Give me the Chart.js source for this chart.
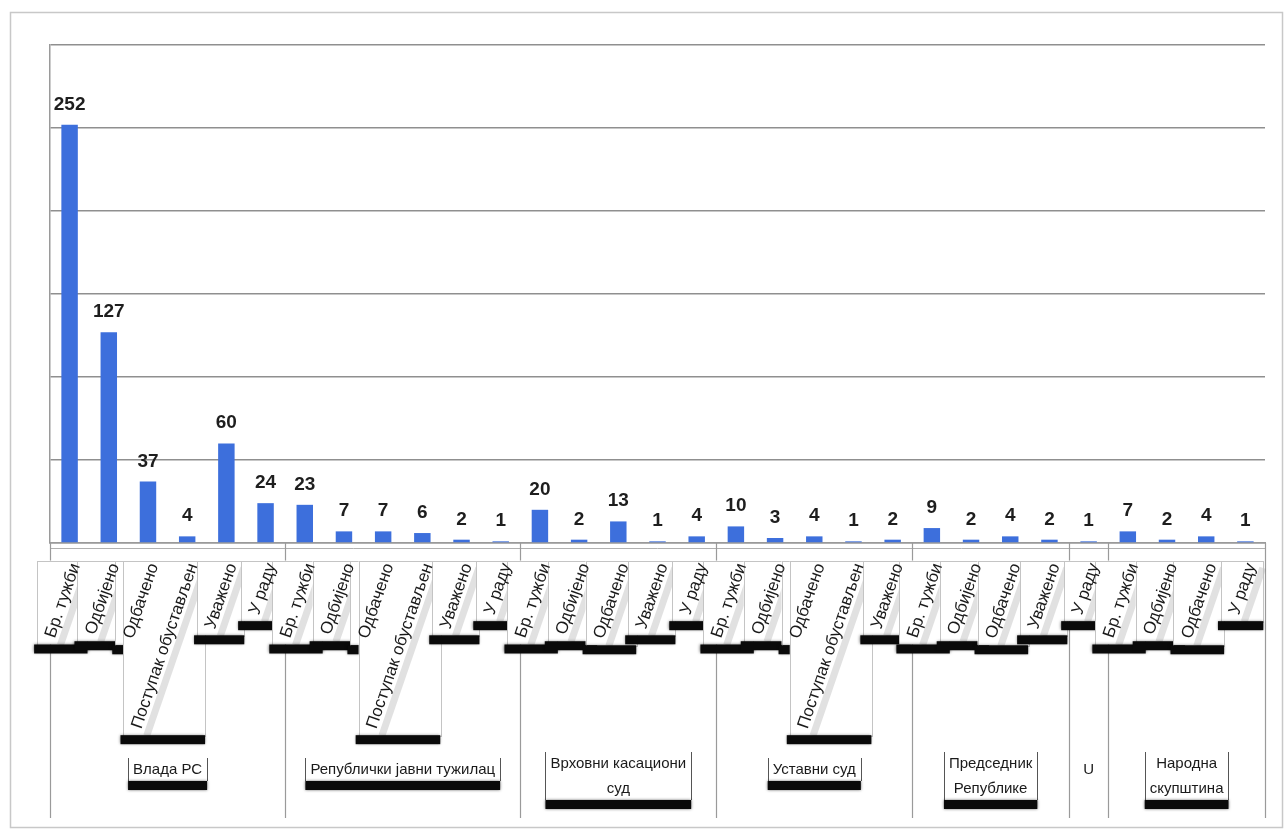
<!DOCTYPE html>
<html>
<head>
<meta charset="utf-8">
<script src="https://cdn.jsdelivr.net/npm/chart.js@4.4.0/dist/chart.umd.min.js"></script>
<style>
html,body{margin:0;padding:0;background:#fff;}
#wrap{position:relative;width:1287px;height:834px;}
</style>
</head>
<body>
<div id="wrap"><canvas id="c" width="1287" height="834"></canvas></div>
<script>
// ---- data ----
const categories = [
  'Бр. тужби','Одбијено','Одбачено','Поступак обустављен','Уважено','У раду',
  'Бр. тужби','Одбијено','Одбачено','Поступак обустављен','Уважено','У раду',
  'Бр. тужби','Одбијено','Одбачено','Уважено','У раду',
  'Бр. тужби','Одбијено','Одбачено','Поступак обустављен','Уважено',
  'Бр. тужби','Одбијено','Одбачено','Уважено',
  'У раду',
  'Бр. тужби','Одбијено','Одбачено','У раду'
];
const values = [
  252,127,37,4,60,24,
  23,7,7,6,2,1,
  20,2,13,1,4,
  10,3,4,1,2,
  9,2,4,2,
  1,
  7,2,4,1
];
const groupNames = [
  ['Влада РС'],
  ['Републички јавни тужилац'],
  ['Врховни касациони','суд'],
  ['Уставни суд'],
  ['Председник','Републике'],
  ['U'],
  ['Народна','скупштина']
];
const groupSizes = [6,6,5,5,4,1,4];
const yTicks = [0,50,100,150,200,250,300];

// ---- plugins ----
const frame = {
  id:'frame',
  beforeDraw(chart){
    const ctx = chart.ctx;
    ctx.save();
    ctx.fillStyle='#fff';
    ctx.fillRect(0,0,chart.width,chart.height);
    ctx.strokeStyle='#c8c8c8';
    ctx.lineWidth=1.5;
    ctx.strokeRect(10.5,12.5,1272,815);
    ctx.restore();
  }
};

const valueLabels = {
  id:'valueLabels',
  afterDatasetsDraw(chart){
    const ctx = chart.ctx;
    const meta = chart.getDatasetMeta(0);
    ctx.save();
    ctx.font = 'bold 19px "Liberation Sans", Arial, sans-serif';
    ctx.fillStyle = '#1e1e1e';
    ctx.textAlign = 'center';
    ctx.textBaseline = 'alphabetic';
    meta.data.forEach((bar,i)=>{
      ctx.fillText(String(values[i]), bar.x, bar.y - 15);
    });
    ctx.restore();
  }
};

const groupAxis = {
  id:'groupAxis',
  afterDraw(chart){
    const ctx = chart.ctx;
    const xs = chart.scales.x;
    const area = chart.chartArea;
    const step = xs.getPixelForTick(1) - xs.getPixelForTick(0);
    const ang = 71*Math.PI/180;
    const fontPx = 17;
    ctx.save();
    ctx.strokeStyle='#b0b0b0';
    ctx.lineWidth=1;
    ctx.beginPath();
    ctx.moveTo(area.left, area.bottom+5.5);
    ctx.lineTo(area.right, area.bottom+5.5);
    ctx.stroke();

    let start = 0;
    const bounds = [];
    groupSizes.forEach((n)=>{
      const l = xs.getPixelForTick(start) - step/2;
      const r = xs.getPixelForTick(start+n-1) + step/2;
      bounds.push([l,r]);
      start += n;
    });
    ctx.strokeStyle='#9a9a9a';
    ctx.lineWidth=1.2;
    const edges = [bounds[0][0]].concat(bounds.map(b=>b[1]));
    edges.forEach(x=>{
      ctx.beginPath();
      ctx.moveTo(Math.round(x)+0.5, area.bottom);
      ctx.lineTo(Math.round(x)+0.5, 818);
      ctx.stroke();
    });

    ctx.font = fontPx+'px "Liberation Sans", Arial, sans-serif';
    ctx.textBaseline='middle';
    ctx.textAlign='right';
    const cs = Math.cos(ang), sn = Math.sin(ang);
    const boxes = categories.map((lab,i)=>{
      const cx = xs.getPixelForTick(i);
      const ax = cx + 6, ay = area.bottom + 21;
      const w = ctx.measureText(lab).width + 4;
      const h = fontPx + 4;
      return {lab, ax, ay, w, h,
        bx0: ax - w*cs - (h/2)*sn - 2,
        bx1: ax + (h/2)*sn + 2,
        by0: ay - (h/2)*cs,
        by1: ay + w*sn + (h/2)*cs};
    });
    // pass 1: boxes and shadows
    boxes.forEach(b=>{
      ctx.fillStyle='#fff';
      ctx.fillRect(b.bx0, b.by0, b.bx1-b.bx0, b.by1-b.by0);
      ctx.save();
      ctx.translate(b.ax, b.ay);
      ctx.rotate(-ang);
      ctx.fillStyle='rgba(120,120,120,0.22)';
      ctx.fillRect(-b.w, b.h/2-2, b.w, 7);
      ctx.restore();
      ctx.strokeStyle='#c4c4c4';
      ctx.lineWidth=1;
      ctx.strokeRect(Math.round(b.bx0)+0.5, Math.round(b.by0)+0.5, Math.round(b.bx1-b.bx0), Math.round(b.by1-b.by0));
      ctx.save();
      ctx.shadowColor='rgba(0,0,0,0.6)';
      ctx.shadowBlur=3;
      ctx.fillStyle='#0a0a0a';
      ctx.fillRect(b.bx0-3, b.by1, (b.bx1-b.bx0)+3, 9);
      ctx.restore();
    });
    // pass 2: texts
    boxes.forEach(b=>{
      ctx.save();
      ctx.translate(b.ax, b.ay);
      ctx.rotate(-ang);
      ctx.fillStyle='#1a1a1a';
      ctx.fillText(b.lab, 0, 0);
      ctx.restore();
    });

    ctx.font = '15px "Liberation Sans", Arial, sans-serif';
    ctx.textAlign='center';
    ctx.textBaseline='middle';
    groupNames.forEach((lines,g)=>{
      const [l,r] = bounds[g];
      const cx = (l+r)/2;
      const lh = 25;
      const y0 = lines.length===1 ? 770 : 764;
      let maxW = 0;
      lines.forEach(t=>{ maxW = Math.max(maxW, ctx.measureText(t).width); });
      const bw = Math.min(maxW + 10, r-l-2);
      const top = y0 - 12;
      const bot = y0 + (lines.length-1)*lh + 11;
      if (lines[0] !== 'U') {
        ctx.fillStyle='#fff';
        ctx.fillRect(cx-bw/2, top, bw, bot-top);
        ctx.strokeStyle='#555';
        ctx.lineWidth=1;
        ctx.beginPath();
        ctx.moveTo(Math.round(cx-bw/2)+0.5, top);
        ctx.lineTo(Math.round(cx-bw/2)+0.5, bot);
        ctx.moveTo(Math.round(cx+bw/2)+0.5, top);
        ctx.lineTo(Math.round(cx+bw/2)+0.5, bot);
        ctx.stroke();
        ctx.save();
        ctx.shadowColor='rgba(0,0,0,0.6)';
        ctx.shadowBlur=3;
        ctx.fillStyle='#0a0a0a';
        ctx.fillRect(cx-bw/2, bot, bw, 9);
        ctx.restore();
      }
      ctx.fillStyle='#1a1a1a';
      lines.forEach((t,k)=>{
        ctx.fillText(t, cx, y0 + k*lh);
      });
    });
    ctx.restore();
  }
};

new Chart(document.getElementById('c'), {
  type:'bar',
  data:{
    labels: categories,
    datasets:[{
      data: values,
      backgroundColor:'#3d6fdc',
      borderWidth:0,
      barPercentage:0.42,
      categoryPercentage:1.0
    }]
  },
  options:{
    responsive:false,
    animation:false,
    devicePixelRatio:1,
    layout:{padding:{left:50,right:22,top:45,bottom:291}},
    plugins:{legend:{display:false},tooltip:{enabled:false}},
    scales:{
      x:{
        offset:true,
        grid:{display:false, drawTicks:false},
        border:{display:true, color:'#9a9a9a', width:1.5},
        ticks:{display:false}
      },
      y:{
        min:yTicks[0], max:yTicks[yTicks.length-1],
        afterBuildTicks(scale){ scale.ticks = yTicks.map(v=>({value:v})); },
        grid:{color:'#8f8f8f', lineWidth:1.5, drawTicks:false},
        border:{display:true, color:'#9a9a9a', width:1.5},
        ticks:{display:false}
      }
    }
  },
  plugins:[frame, valueLabels, groupAxis]
});
</script>
</body>
</html>
